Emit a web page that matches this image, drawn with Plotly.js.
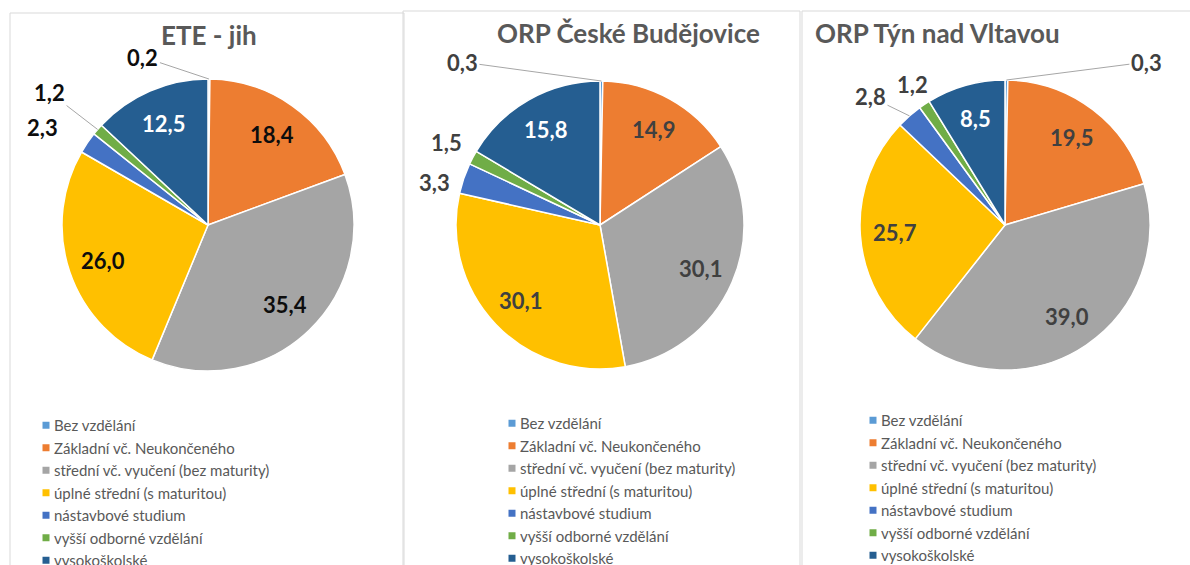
<!DOCTYPE html>
<html>
<head>
<meta charset="utf-8">
<script src="https://cdn.plot.ly/plotly-3.0.1.min.js"></script>
<style>html,body{margin:0;padding:0;background:#fff;}#chart{width:1190px;height:565px;}</style>
</head>
<body>
<div id="chart"></div>
<script>
// ---- data ----
const categories = [
  'Bez vzdělání',
  'Základní vč. Neukončeného',
  'střední vč. vyučení (bez maturity)',
  'úplné střední (s maturitou)',
  'nástavbové studium',
  'vyšší odborné vzdělání',
  'vysokoškolské'
];
const panelTitles = ['ETE - jih', 'ORP České Budějovice', 'ORP Týn nad Vltavou'];
const valuesETE = [0.2, 18.4, 35.4, 26.0, 2.3, 1.2, 12.5];
const valuesCB  = [0.3, 14.9, 30.1, 30.1, 3.3, 1.5, 15.8];
const valuesTyn = [0.3, 19.5, 39.0, 25.7, 2.8, 1.2, 8.5];
const seriesValues = [valuesETE, valuesCB, valuesTyn];

// ---- styling / layout config ----
const W = 1190, H = 565;
const sliceColors = ['#5B9BD5', '#ED7D31', '#A5A5A5', '#FFC000', '#4472C4', '#70AD47', '#255E91'];
const panels = [
  {cx: 208, cy: 225, r: 146, border: [10, 404, 13], titleX: 209, titleY: 35, legendX: 54, legendY: 409,
   labelColor: '#0d0d0d', outside: {0: [-66, -22, true], 5: [-48, -37, true], 4: [-45, -15, false]}},
  {cx: 600, cy: 225, r: 144, border: [403, 800, 11], titleX: 628, titleY: 33, legendX: 520, legendY: 407,
   labelColor: '#404040', outside: {0: [-139, -19, true], 5: [-26, -15, false], 4: [-29, 4, false]}},
  {cx: 1005, cy: 225, r: 145, border: [802, 1200, 11], titleX: 937, titleY: 33, legendX: 881, legendY: 404,
   labelColor: '#404040', outside: {0: [140, -18, true], 4: [-39, -19, true], 5: [-12, -20, false]}}
];
const px2x = p => p / W;
const px2y = p => 1 - p / H;
const fmt = v => v.toFixed(1).replace('.', ',');

const traces = [];
const annotations = [];
const shapes = [];

panels.forEach((p, i) => {
  const vals = seriesValues[i];
  const legendId = i === 0 ? 'legend' : 'legend' + (i + 1);
  traces.push({
    type: 'pie',
    labels: categories,
    values: vals,
    sort: false,
    direction: 'clockwise',
    rotation: 0,
    textinfo: 'none',
    hovertemplate: '%{label}: %{value}<extra></extra>',
    marker: {colors: sliceColors, line: {color: '#ffffff', width: 1.5}},
    domain: {x: [px2x(p.cx - p.r), px2x(p.cx + p.r)], y: [px2y(p.cy + p.r), px2y(p.cy - p.r)]},
    showlegend: false
  });
  // legend entries for this panel (one per category)
  categories.forEach((c, k) => {
    traces.push({
      type: 'scatter', mode: 'markers', x: [null], y: [null], name: c,
      marker: {symbol: 'square', size: 7, color: sliceColors[k]},
      legend: legendId, showlegend: true, hoverinfo: 'skip'
    });
  });

  // panel border
  shapes.push({type: 'rect', xref: 'paper', yref: 'paper',
    x0: px2x(p.border[0]), x1: px2x(p.border[1]), y0: px2y(620), y1: px2y(p.border[2]),
    line: {color: '#d9d9d9', width: 1}, fillcolor: 'rgba(0,0,0,0)', layer: 'below'});

  // title
  annotations.push({text: panelTitles[i], xref: 'paper', yref: 'paper',
    x: px2x(p.titleX), y: px2y(p.titleY), xanchor: 'center', yanchor: 'middle', showarrow: false,
    font: {family: 'Lato, sans-serif', size: 26, weight: 'bold', color: '#595959'}});

  // data labels computed from slice angles
  const total = vals.reduce((a, b) => a + b, 0);
  let cum = 0;
  vals.forEach((v, k) => {
    const mid = (cum + v / 2) / total * 2 * Math.PI;
    cum += v;
    const sn = Math.sin(mid), cs = Math.cos(mid);
    const out = p.outside[k];
    const txtColor = (k === 6) ? '#ffffff' : p.labelColor;
    const font = {family: 'Lato, sans-serif', size: 22, weight: 'bold', color: txtColor};
    if (out) {
      const tx = p.cx + p.r * sn, ty = p.cy - p.r * cs;
      annotations.push({text: fmt(v), xref: 'paper', yref: 'paper', x: px2x(tx), y: px2y(ty),
        showarrow: true, arrowhead: 0, arrowwidth: 1, standoff: 0,
        arrowcolor: out[2] ? '#a6a6a6' : 'rgba(0,0,0,0)',
        ax: out[0], ay: out[1], font: font});
    } else {
      const rr = 0.76 * p.r;
      annotations.push({text: fmt(v), xref: 'paper', yref: 'paper',
        x: px2x(p.cx + rr * sn), y: px2y(p.cy - rr * cs), xanchor: 'center', yanchor: 'middle',
        showarrow: false, font: font});
    }
  });
});

const layout = {
  width: W, height: H,
  margin: {l: 0, r: 0, t: 0, b: 0, autoexpand: false},
  paper_bgcolor: '#ffffff',
  plot_bgcolor: 'rgba(0,0,0,0)',
  separators: ', ',
  xaxis: {visible: false, fixedrange: true},
  yaxis: {visible: false, fixedrange: true},
  shapes: shapes,
  annotations: annotations
};
panels.forEach((p, i) => {
  const key = i === 0 ? 'legend' : 'legend' + (i + 1);
  layout[key] = {
    x: px2x(p.legendX - 40), y: px2y(p.legendY), xanchor: 'left', yanchor: 'top',
    xref: 'paper', yref: 'paper',
    bgcolor: 'rgba(0,0,0,0)', borderwidth: 0,
    font: {family: 'Lato, sans-serif', size: 15, color: '#595959'},
    orientation: 'v', traceorder: 'normal', tracegroupgap: 0
  };
});

Plotly.newPlot('chart', traces, layout, {displayModeBar: false, staticPlot: true}).then(gd => {
  // legend swatches sit close to the text, as in the original
  gd.querySelectorAll('.legendpoints path').forEach(el => {
    const t = el.getAttribute('transform') || '';
    el.setAttribute('transform', t + ' translate(12,0)');
  });
});
</script>
</body>
</html>
